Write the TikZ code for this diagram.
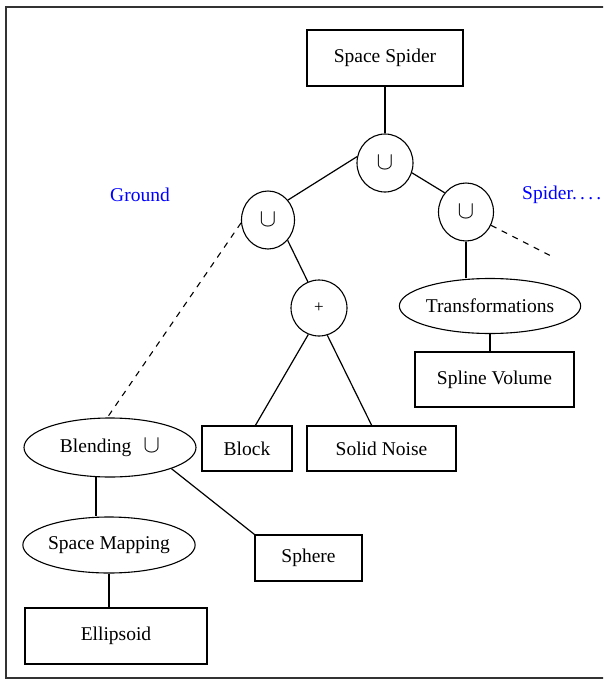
\documentclass[tikz,border=0pt]{standalone}
\usepackage{fontspec}
\setmainfont{Liberation Serif}
\usetikzlibrary{shapes.geometric}
\begin{document}
\begin{tikzpicture}[x=1pt,y=-1pt,
  every node/.style={font=\fontsize{19.5}{22}\selectfont, inner sep=0pt},
  box/.style={draw, rectangle, line width=1.2pt},
  oval/.style={draw, ellipse, line width=1.1pt},
  opnode/.style={draw, ellipse, line width=1.1pt, font=\fontsize{24}{26}\selectfont},
  con/.style={line width=1.2pt},
  dashcon/.style={line width=1.1pt, dash pattern=on 6pt off 6pt},
  lbl/.style={text=blue}]
\useasboundingbox (0,0) rectangle (603,680);
\clip (0,0) rectangle (603,680);
\draw[line width=1.6pt, black!80] (6,7) rectangle (640,678);

% nodes
\node[box, minimum width=156pt, minimum height=56pt] (ss) at (385,58) {Space Spider};
\node[opnode, minimum width=56pt, minimum height=58pt] (u0) at (385,163) {$\cup$};
\node[opnode, minimum width=53pt, minimum height=58pt] (u1) at (268,220) {$\cup$};
\node[opnode, minimum width=55pt, minimum height=58pt] (u2) at (466,212) {$\cup$};
\node[oval, minimum width=56pt, minimum height=56pt, font=\fontsize{17}{19}\selectfont] (pl) at (319,308) {+};
\node[oval, minimum width=170pt, minimum height=55pt] (tr) at (490,306) {Transformations};
\node[box, minimum width=159pt, minimum height=55pt] (sv) at (494.5,379.5) {Spline Volume};
\node[box, minimum width=90pt, minimum height=45pt] (bk) at (247,448.5) {Block};
\node[box, minimum width=149pt, minimum height=45pt] (sn) at (381.5,448.5) {Solid Noise};
\node[oval, minimum width=172pt, minimum height=59pt] (bl) at (110,447.5) {Blending\hspace{12pt}{\fontsize{24}{26}\selectfont$\cup$}};
\node[oval, minimum width=170pt, minimum height=56pt] (sm) at (109,545) {Space Mapping};
\node[box, minimum width=107pt, minimum height=46pt] (sph) at (308.5,558) {Sphere};
\node[box, minimum width=182pt, minimum height=56pt] (el) at (116,636) {Ellipsoid};

\node[lbl] (gr) at (140,195) {Ground};
\node[lbl, anchor=west] (sp) at (522,195) {Spider.\,.\,.\,.};
\coordinate (free) at (555,258);

% connectors
\draw[con] (ss.south) -- (u0.north);
\draw[con] (u0.167) -- (u1.45);
\draw[con] (u0.-20) -- (u2.138);
\draw[con] (u1.-46) -- (pl.113);
\draw[dashcon] (u1.186) -- (bl.95);
\draw[con] (pl.-112) -- (bk.70);
\draw[con] (pl.-73) -- (sn.113);
\draw[con] (u2.south) -- (u2.south |- tr.north);
\draw[dashcon] (u2.-28) -- (free);
\draw[con] (tr.south) -- (tr.south |- sv.north);
\draw[con] ([xshift=0.5pt]bl.-116) -- ([xshift=0.5pt]bl.-116 |- sm.north);
\draw[con] (sm.south) -- (sm.south |- el.north);
\draw[con] (bl.-19) -- (sph.north west);
\end{tikzpicture}
\end{document}
